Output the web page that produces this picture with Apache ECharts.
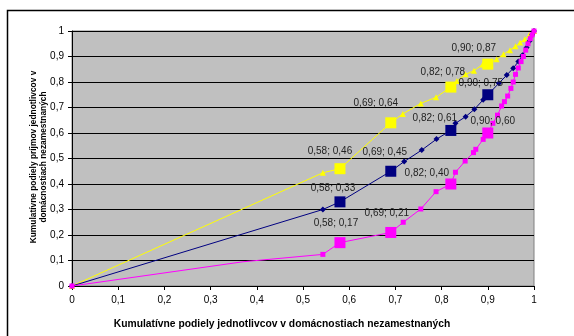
<!DOCTYPE html>
<html>
<head>
<meta charset="utf-8">
<script src="https://cdn.jsdelivr.net/npm/echarts@6/dist/echarts.min.js"></script>
<style>html,body{margin:0;padding:0;background:#fff}#c{width:574px;height:336px}</style>
</head>
<body>
<div id="c"></div>
<script>
// ---- data ----
const xTicks = [0, 0.1, 0.2, 0.3, 0.4, 0.5, 0.6, 0.7, 0.8, 0.9, 1];
const yTicks = [0, 0.1, 0.2, 0.3, 0.4, 0.5, 0.6, 0.7, 0.8, 0.9, 1];

const yellowCurve = [[0,0],[0.543,0.444],[0.58,0.46],[0.69,0.64],[0.716,0.675],[0.755,0.716],[0.788,0.74],[0.82,0.78],[0.833,0.804],[0.852,0.83],[0.87,0.844],[0.889,0.869],[0.90,0.87],[0.919,0.889],[0.934,0.909],[0.948,0.925],[0.96,0.94],[0.97,0.955],[0.98,0.968],[0.99,0.985],[1,1]];
const navyCurve = [[0,0],[0.543,0.30],[0.58,0.33],[0.69,0.45],[0.719,0.488],[0.757,0.533],[0.789,0.576],[0.82,0.61],[0.83,0.638],[0.852,0.664],[0.871,0.693],[0.89,0.73],[0.90,0.75],[0.924,0.795],[0.941,0.827],[0.955,0.854],[0.966,0.88],[0.975,0.905],[0.984,0.935],[0.99,0.96],[0.996,0.985],[1,1]];
const magentaCurve = [[0,0],[0.37,0.095],[0.543,0.124],[0.58,0.17],[0.69,0.21],[0.717,0.25],[0.755,0.302],[0.788,0.37],[0.82,0.40],[0.83,0.446],[0.851,0.49],[0.869,0.523],[0.874,0.536],[0.89,0.575],[0.90,0.60],[0.911,0.638],[0.921,0.67],[0.93,0.706],[0.936,0.723],[0.943,0.745],[0.95,0.775],[0.955,0.80],[0.96,0.83],[0.966,0.855],[0.972,0.88],[0.977,0.9],[0.982,0.925],[0.987,0.95],[0.992,0.97],[0.996,0.985],[1,1]];

const yellowMarked = [[0.58,0.46],[0.69,0.64],[0.82,0.78],[0.90,0.87]];
const navyMarked = [[0.58,0.33],[0.69,0.45],[0.82,0.61],[0.90,0.75]];
const magentaMarked = [[0.58,0.17],[0.69,0.21],[0.82,0.40],[0.90,0.60]];

const xTitle = 'Kumulatívne podiely jednotlivcov v domácnostiach nezamestnaných';
const yTitleLines = ['Kumulatívne podiely príjmov jednotlivcov v', 'domácnostiach nezamestnaných'];

// ---- styling (not data) ----
const FONT = '"Liberation Sans", Arial, sans-serif';
const labelShift = {
  yellow: [[-10,-17],[-15,-20],[-8,-15],[-14,-16]],
  navy: [[-7,-14],[-6,-19],[-16,-12],[-7,-12]],
  magenta: [[-4,-19],[-4,-19],[-24,-11],[5,-12]]
};
const fmt = v => v.toFixed(2).replace('.', ',');
const tickFmt = v => String(Math.round(v * 10) / 10).replace('.', ',');

function curve(data, color, symbol, size, hideIdx) {
  return {
    type: 'line', data: data, color: color,
    symbol: (val, p) => (hideIdx !== undefined && p.dataIndex === hideIdx) ? 'none' : symbol,
    symbolSize: size, showAllSymbol: true,
    lineStyle: { color: color, width: 1 },
    itemStyle: { color: color, borderWidth: 0, opacity: 1 },
    animation: false, z: 3
  };
}
function marked(data, color, shifts) {
  return {
    type: 'scatter', symbol: 'rect', symbolSize: 11, animation: false, z: 4,
    itemStyle: { color: color, borderWidth: 0, opacity: 1 },
    data: data.map((d, i) => ({
      value: d,
      label: { show: true, position: 'inside', offset: shifts[i],
        formatter: () => fmt(d[0]) + '; ' + fmt(d[1]),
        color: '#222', fontFamily: FONT, fontSize: 10 }
    }))
  };
}

const chart = echarts.init(document.getElementById('c'), null, { renderer: 'canvas' });
chart.setOption({
  backgroundColor: '#fff',
  animation: false,
  grid: { left: 72, top: 31, right: 40, bottom: 50, show: true, backgroundColor: '#C0C0C0', borderColor: '#808080', borderWidth: 1 },
  xAxis: {
    type: 'value', min: xTicks[0], max: xTicks[xTicks.length - 1], interval: 0.1,
    axisLine: { show: true, onZero: false, lineStyle: { color: '#000', width: 1 } },
    axisTick: { show: true, length: 4, lineStyle: { color: '#000' } },
    splitLine: { show: false },
    axisLabel: { formatter: tickFmt, color: '#000', fontFamily: FONT, fontSize: 10, margin: 9 }
  },
  yAxis: {
    type: 'value', min: yTicks[0], max: yTicks[yTicks.length - 1], interval: 0.1,
    axisLine: { show: true, onZero: false, lineStyle: { color: '#000', width: 1 } },
    axisTick: { show: true, length: 4, lineStyle: { color: '#000' } },
    splitLine: { show: true, lineStyle: { color: '#000', width: 1 } },
    axisLabel: { formatter: tickFmt, color: '#000', fontFamily: FONT, fontSize: 10, margin: 8 }
  },
  graphic: [
    { type: 'rect', shape: { x: 7.5, y: 10.5, width: 700, height: 500 }, style: { fill: null, stroke: '#000', lineWidth: 1.5 }, z: 100, silent: true },
    { type: 'text', x: 282, y: 324, style: { text: xTitle, font: 'bold 10.3px ' + FONT, fill: '#000', textAlign: 'center', textVerticalAlign: 'middle' }, z: 100 },
    { type: 'text', x: 39, y: 157, rotation: Math.PI / 2, style: { text: yTitleLines.join('\n'), font: 'bold 8.4px ' + FONT, lineHeight: 10, fill: '#000', textAlign: 'center', textVerticalAlign: 'middle' }, z: 100 }
  ],
  series: [
    curve(yellowCurve, '#FFFF00', 'triangle', 6),
    curve(navyCurve, '#000080', 'diamond', 6),
    curve(magentaCurve, '#FF00FF', 'rect', 5, 1),
    marked(yellowMarked, '#FFFF00', labelShift.yellow),
    marked(navyMarked, '#000080', labelShift.navy),
    marked(magentaMarked, '#FF00FF', labelShift.magenta)
  ]
});
</script>
</body>
</html>
